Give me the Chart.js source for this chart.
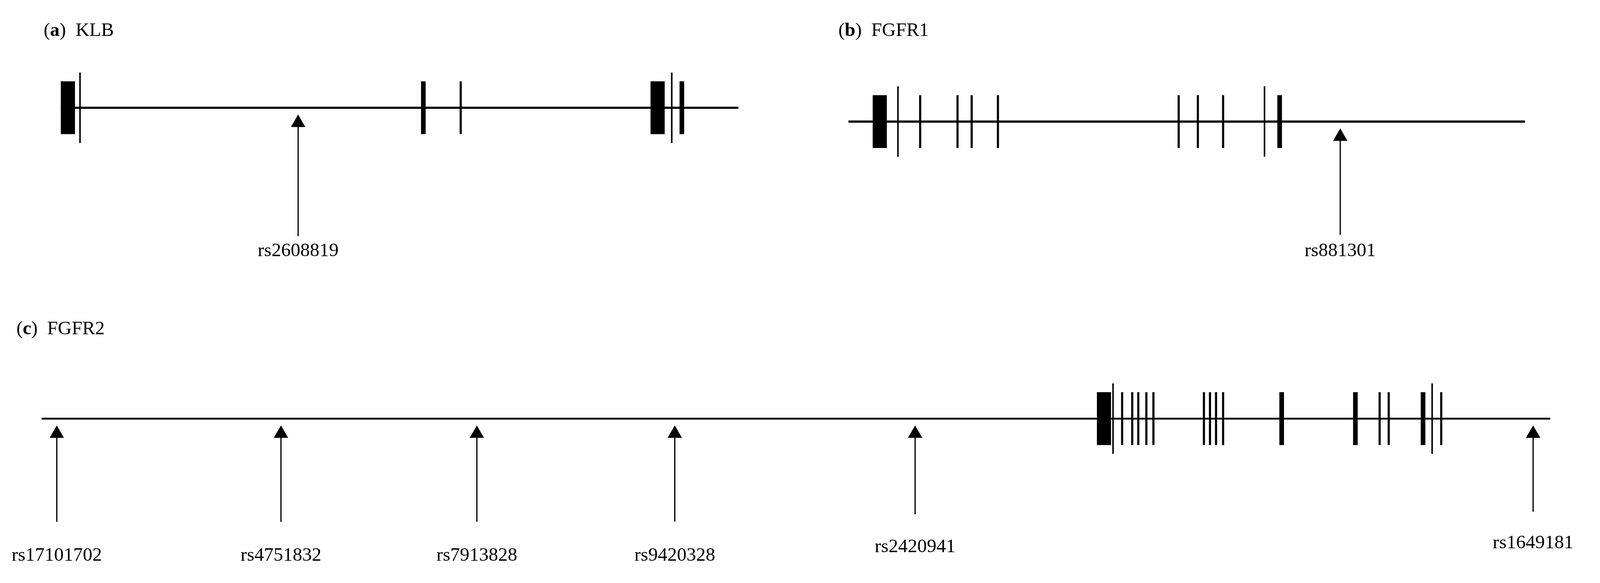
<!DOCTYPE html>
<html>
<head>
<meta charset="utf-8">
<script src="https://cdn.jsdelivr.net/npm/chart.js@4.4.0/dist/chart.umd.min.js"></script>
<style>
  html, body { margin: 0; padding: 0; background: #fff; overflow: hidden; }
  #wrap { width: 100vw; height: 100vh; }
</style>
</head>
<body>
<div id="wrap"><canvas id="chart"></canvas></div>
<script>
// diagram units: 0..1568 across, 0..450 down
const panelTitles = ["a", "b", "c"]
const geneNames = ["KLB", "FGFR1", "FGFR2"]
const titlePos = [[35, 18], [822, 18], [8, 255]]
const geneSpans = [[52, 723], [832, 1502], [33, 1527]]
const geneRows = [79, 90, 326]

// exon position, kind
const klbExons = [[59, "block"], [71, "tall"], [411, "medium"], [448, "thin"], [643, "block"], [657, "tall"], [667, "medium"]]
const fgfr1Exons = [[863, "block"], [881, "tall"], [903, "thin"], [940, "thin"], [954, "thin"], [980, "thin"],
    [1159, "thin"], [1178, "thin"], [1203, "thin"], [1244, "tall"], [1259, "medium"]]
const fgfr2Exons = [[1085, "block"], [1094, "tall"], [1103, "thin"], [1113, "thin"], [1119, "thin"], [1127, "thin"],
    [1134, "thin"], [1184, "thin"], [1190, "thin"], [1196, "thin"], [1203, "thin"], [1261, "medium"],
    [1334, "medium"], [1358, "thin"], [1367, "thin"], [1401, "medium"], [1410, "tall"], [1419, "thin"]]

// snp position, label, arrow end, label centre
const klbSnps = [[287, "rs2608819", 181, 193]]
const fgfr1Snps = [[1319, "rs881301", 180, 193]]
const fgfr2Snps = [[48, "rs17101702", 408, 435], [270, "rs4751832", 408, 435], [464, "rs7913828", 408, 435],
    [660, "rs9420328", 408, 435], [898, "rs2420941", 402, 428], [1510, "rs1649181", 400, 425]]

const allExons = [klbExons, fgfr1Exons, fgfr2Exons]
const allSnps = [klbSnps, fgfr1Snps, fgfr2Snps]

// the window may not be 5196 css px wide, so scale the strokes to it
const k = window.innerWidth / 5196
const kindWidth = { block: 46, medium: 15, thin: 7, tall: 5 }
const kindHalf = { block: 21, medium: 21, thin: 21, tall: 28 }

const datasets = []
geneRows.forEach((row, g) => {
    datasets.push({
        data: [{ x: geneSpans[g][0], y: row }, { x: geneSpans[g][1], y: row }],
        borderColor: "#000", borderWidth: (g == 2 ? 6 : 7) * k, pointRadius: 0
    })
    for (const [pos, kind] of allExons[g]) {
        datasets.push({
            data: [{ x: pos, y: row - kindHalf[kind] }, { x: pos, y: row + kindHalf[kind] }],
            borderColor: "#000", borderWidth: kindWidth[kind] * k, pointRadius: 0, borderCapStyle: "butt"
        })
    }
    for (const [pos, label, end] of allSnps[g]) {
        datasets.push({
            data: [{ x: pos, y: row + 12 }, { x: pos, y: end }],
            borderColor: "#000", borderWidth: 4 * k, pointRadius: 0
        })
        datasets.push({
            data: [{ x: pos, y: row + 12 }],
            pointStyle: "triangle", pointRadius: 27 * k, backgroundColor: "#000", borderWidth: 0, showLine: false
        })
    }
})

const textPlugin = {
    id: "texts",
    afterDatasetsDraw(chart) {
        const ctx = chart.ctx
        const xs = chart.scales.x, ys = chart.scales.y
        const fs = Math.round(62 * chart.width / 5196)
        const plain = fs + "px 'Liberation Serif'"
        const bold = "bold " + plain
        ctx.save()
        ctx.fillStyle = "#000"
        ctx.textBaseline = "middle"
        ctx.textAlign = "center"
        ctx.font = plain
        allSnps.forEach((snps) => {
            for (const [pos, label, end, ly] of snps) {
                ctx.fillText(label, xs.getPixelForValue(pos), ys.getPixelForValue(ly))
            }
        })
        ctx.textAlign = "left"
        titlePos.forEach(([tx, ty], i) => {
            let px = xs.getPixelForValue(tx), py = ys.getPixelForValue(ty)
            ctx.font = plain
            ctx.fillText("(", px, py)
            px += ctx.measureText("(").width
            ctx.font = bold
            ctx.fillText(panelTitles[i], px, py)
            px += ctx.measureText(panelTitles[i]).width
            ctx.font = plain
            ctx.fillText(")", px, py)
            px += ctx.measureText(")").width + fs * 0.5
            ctx.fillText(geneNames[i], px, py)
        })
        ctx.restore()
    }
}

new Chart("chart", {
    type: "scatter",
    data: { datasets: datasets },
    options: {
        animation: false,
        responsive: true,
        maintainAspectRatio: false,
        layout: { padding: 0 },
        plugins: { legend: { display: false }, tooltip: { enabled: false } },
        elements: { line: { tension: 0 } },
        datasets: { scatter: { showLine: true } },
        scales: {
            x: { type: "linear", min: 0, max: 1568, display: false },
            y: { type: "linear", min: 0, max: 450, reverse: true, display: false }
        }
    },
    plugins: [textPlugin]
})
</script>
</body>
</html>
